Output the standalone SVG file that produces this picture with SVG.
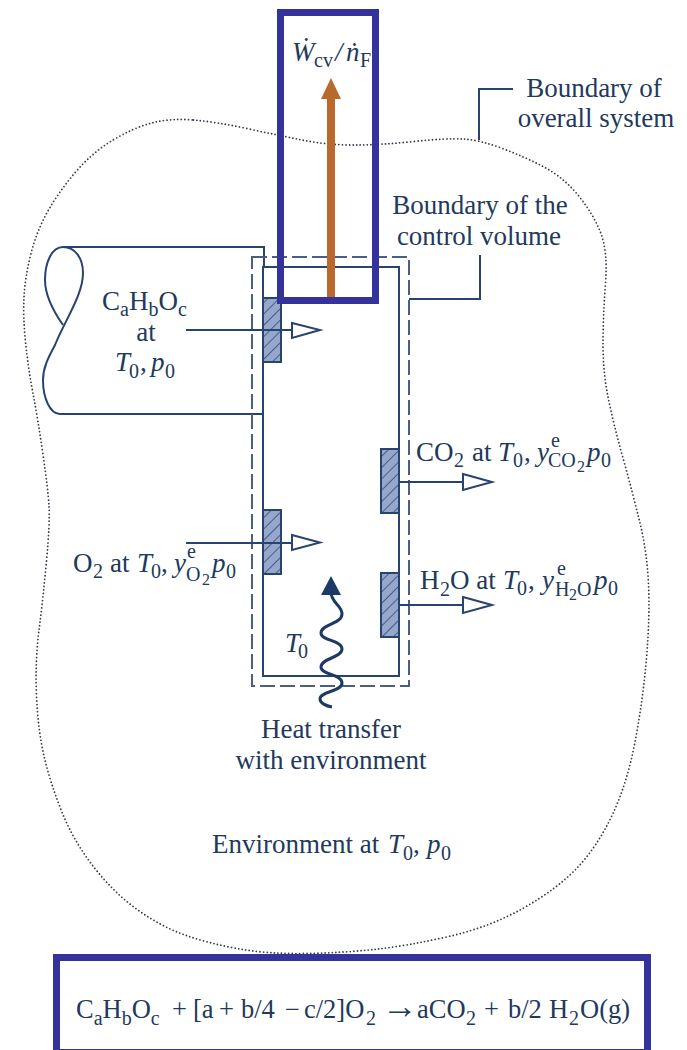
<svg xmlns="http://www.w3.org/2000/svg" width="687" height="1050" viewBox="0 0 687 1050">
<style>
text{font-family:"Liberation Serif","Times New Roman",serif;font-size:27px;fill:#22395c}
.m{text-anchor:middle}
.s{font-size:20px}
.ss{font-size:16px}
.i{font-style:italic}
.ln{fill:none;stroke:#27446f;stroke-width:2}
.hd{fill:#fff;stroke:#27446f;stroke-width:2;stroke-linejoin:miter}
.hatch{fill:url(#h);stroke:#27446f;stroke-width:2}
.blue{fill:none;stroke:#33339b;stroke-width:7}
</style>
<defs>
<pattern id="h" patternUnits="userSpaceOnUse" width="8" height="8" patternTransform="rotate(45)">
<rect width="8" height="8" fill="#97a7cc"/><line x1="0" y1="0" x2="0" y2="8" stroke="#2f4a78" stroke-width="1.6"/>
</pattern>
</defs>
<rect width="687" height="1050" fill="#fff"/>
<g id="overall-boundary">
<path d="M193.5,120Q217,122 247,128.5Q277,135 302,140Q327,145 353.5,145Q380,145 413.5,141.5Q447,138 463.5,139Q480,140 502.5,148.5Q525,157 544,167Q563,177 577.5,194.5Q592,212 600,231Q608,250 605.5,283.5Q603,317 603,344.5Q603,372 608,397Q613,422 623,458Q633,494 640,523Q647,552 648.5,584Q650,616 646.5,658Q643,700 635,742Q627,784 612,815.5Q597,847 577,868Q557,889 523.5,908Q490,927 448.5,936.5Q407,946 373.5,949.5Q340,953 303.5,953.5Q267,954 237,948.5Q207,943 183.5,934.5Q160,926 136.5,909Q113,892 93,866Q73,840 61.5,811Q50,782 44,756Q38,730 36.5,695.5Q35,661 39,630Q43,599 46.5,561Q50,523 49,506Q48,489 43,454.5Q38,420 33,393.5Q28,367 25.5,342Q23,317 24,297Q25,277 31,253.5Q37,230 48.5,210Q60,190 76.5,171Q93,152 113,140Q133,128 151.5,123Q170,118 193.5,120Z" fill="none" stroke="#333a4a" stroke-width="1.8" stroke-linecap="round" stroke-dasharray="0 3.6"/>
</g>
<g id="pipe">
<path class="ln" d="M264,267V247H63C75,247 83,258 83,273C83,295 65,320 55,345C48,358 43,368 43,380C43,398 50,414 60,414H263"/>
<path class="ln" d="M63,247C52,247 45,262 45,280C45,298 56,315 63,325"/>
</g>
<g id="control-volume">
<rect x="252" y="257" width="157" height="429" fill="none" stroke="#4a5f84" stroke-width="2" stroke-dasharray="15 5"/>
<rect class="ln" x="263" y="267" width="136" height="409"/>
</g>
<g id="ports">
<rect class="hatch" x="263" y="298" width="18" height="64"/>
<rect class="hatch" x="263" y="510" width="18" height="64"/>
<rect class="hatch" x="381" y="449" width="18" height="64"/>
<rect class="hatch" x="381" y="573" width="18" height="64"/>
</g>
<g id="connectors">
<path class="ln" d="M513,89H479V140"/>
<path class="ln" d="M480,255V299H409"/>
<line class="ln" x1="186" y1="330" x2="292" y2="330"/>
<polygon class="hd" points="292,323 320,330 292,338"/>
<line class="ln" x1="186" y1="543" x2="292" y2="543"/>
<polygon class="hd" points="292,535 320,542.5 292,550"/>
<line class="ln" x1="399" y1="482" x2="463" y2="482"/>
<polygon class="hd" points="463,474 492,482 463,490"/>
<line class="ln" x1="399" y1="605" x2="463" y2="605"/>
<polygon class="hd" points="463,597 492,605 463,613"/>
<path d="M331,592C331,603 342,605 342,614C342,624 321,624 321,633C321,641 342,640 342,649C342,658 321,658 321,667C321,675 342,674 342,683C342,692 320,691 320,699C320,703 326,706 332,707" fill="none" stroke="#1d3a66" stroke-width="3"/>
<polygon points="331,576 341,595 321,595" fill="#1d3a66"/>
<rect x="327" y="98" width="8" height="199" fill="#b8692b"/>
<polygon points="331,78 341,99 321,99" fill="#b8692b"/>
</g>
<g id="work-box">
<rect class="blue" x="280.500" y="12.500" width="95" height="288"/>
<text x="292" y="61"><tspan class="i">Ẇ</tspan><tspan class="s" x="314" y="67">cv</tspan><tspan x="335" y="61" class="i">/</tspan><tspan x="346" y="61" class="i">ṅ</tspan><tspan class="s" x="360" y="67">F</tspan></text>
</g>
<g id="label-overall">
<text class="m" x="594" y="97">Boundary of</text>
<text class="m" x="596" y="127">overall system</text>
</g>
<g id="label-cv">
<text class="m" x="480" y="214">Boundary of the</text>
<text class="m" x="479" y="245">control volume</text>
</g>
<g id="label-fuel">
<text x="102" y="310">C<tspan class="s" y="316">a</tspan><tspan y="310">H</tspan><tspan class="s" y="316">b</tspan><tspan y="310">O</tspan><tspan class="s" y="316">c</tspan></text>
<text class="m" x="146" y="341">at</text>
<text x="115" y="371"><tspan class="i">T</tspan><tspan class="s" x="129" y="378">0</tspan><tspan x="140" y="371">,</tspan><tspan class="i" x="151" y="371">p</tspan><tspan class="s" x="165" y="378">0</tspan></text>
</g>
<g id="label-o2">
<text x="73" y="572">O<tspan class="s" x="93" y="578">2</tspan><tspan x="110" y="572">at</tspan><tspan class="i" x="137" y="572">T</tspan><tspan class="s" x="151" y="578">0</tspan><tspan x="161" y="572">,</tspan><tspan class="i" x="174" y="572">y</tspan><tspan class="s" x="187" y="558">e</tspan><tspan class="s" x="186" y="581">O</tspan><tspan class="ss" x="202" y="585">2</tspan><tspan class="i" x="212" y="572">p</tspan><tspan class="s" x="226" y="578">0</tspan></text>
</g>
<g id="label-co2">
<text x="416" y="461">CO<tspan class="s" x="454" y="467">2</tspan><tspan x="472" y="461">at</tspan><tspan class="i" x="498" y="461">T</tspan><tspan class="s" x="513" y="467">0</tspan><tspan x="524" y="461">,</tspan><tspan class="i" x="537" y="461">y</tspan><tspan class="s" x="551" y="447">e</tspan><tspan class="s" x="548" y="467">CO</tspan><tspan class="ss" x="577" y="472">2</tspan><tspan class="i" x="587" y="461">p</tspan><tspan class="s" x="601" y="467">0</tspan></text>
</g>
<g id="label-h2o">
<text x="420" y="589">H<tspan class="s" x="440" y="596">2</tspan><tspan x="450" y="589">O at</tspan><tspan class="i" x="503" y="589">T</tspan><tspan class="s" x="517" y="595">0</tspan><tspan x="528" y="589">,</tspan><tspan class="i" x="542" y="589">y</tspan><tspan class="s" x="557" y="575">e</tspan><tspan class="s" x="555" y="596">H</tspan><tspan class="ss" x="569" y="600">2</tspan><tspan class="s" x="577" y="596">O</tspan><tspan class="i" x="594" y="589">p</tspan><tspan class="s" x="608" y="595">0</tspan></text>
</g>
<g id="label-t0">
<text x="285" y="652"><tspan class="i">T</tspan><tspan class="s" x="298" y="658">0</tspan></text>
</g>
<g id="label-heat">
<text class="m" x="331" y="738">Heat transfer</text>
<text class="m" x="331" y="769">with environment</text>
</g>
<g id="label-environment">
<text x="212" y="853">Environment at<tspan class="i" x="388" y="853">T</tspan><tspan class="s" x="403" y="860">0</tspan><tspan x="413" y="853">,</tspan><tspan class="i" x="427" y="853">p</tspan><tspan class="s" x="441" y="860">0</tspan></text>
</g>
<g id="reaction-box">
<rect class="blue" x="56.500" y="957.500" width="591" height="95"/>
<text x="76" y="1018" style="font-size:26.5px">C<tspan class="s" y="1025">a</tspan><tspan y="1018">H</tspan><tspan class="s" y="1025">b</tspan><tspan y="1018">O</tspan><tspan class="s" y="1025">c</tspan><tspan x="172" y="1018">+</tspan><tspan x="193" y="1018">[a</tspan><tspan x="219" y="1018">+</tspan><tspan x="241" y="1018">b/4</tspan><tspan x="285" y="1018">−</tspan><tspan x="304" y="1018">c/2]O</tspan><tspan class="s" x="366" y="1025">2</tspan><tspan x="382" y="1018" style="font-size:36px">→</tspan><tspan x="417" y="1018">aCO</tspan><tspan class="s" x="466" y="1025">2</tspan><tspan x="484" y="1018">+</tspan><tspan x="508" y="1018">b/2</tspan><tspan x="549" y="1018">H</tspan><tspan class="s" x="569" y="1025">2</tspan><tspan x="580" y="1018">O(g)</tspan></text>
</g>
</svg>
